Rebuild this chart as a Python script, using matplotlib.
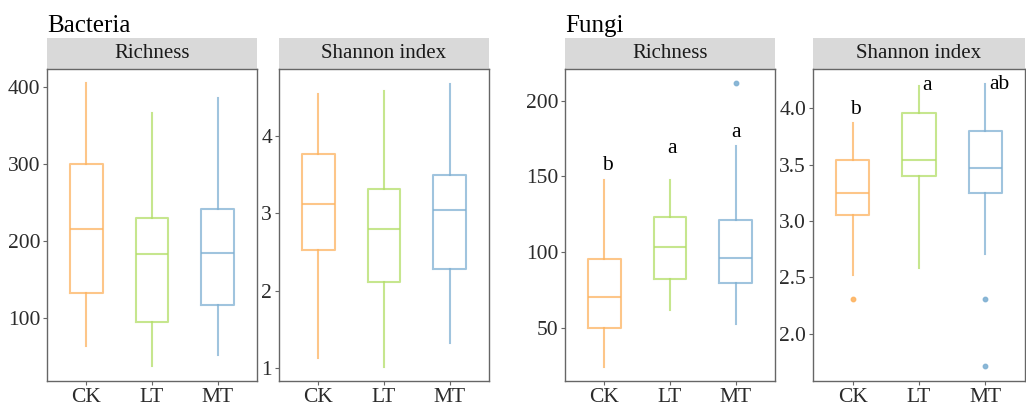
import matplotlib
matplotlib.use("Agg")
import matplotlib.pyplot as plt
from matplotlib.patches import Rectangle

plt.rcParams['font.family'] = ['Liberation Serif', 'DejaVu Serif']

groups = ["CK", "LT", "MT"]
colors = ["#FDB462", "#B3DE69", "#80B1D3"]

# Bacteria richness: (whislo, q1, med, q3, whishi)
bac_rich = [(64.6, 132.7, 215.9, 300.0, 405.2),
            (38.7, 94.8, 184.1, 229.8, 367.1),
            (52.9, 117.2, 185.4, 241.4, 385.8)]
bac_rich_out = [[], [], []]
bac_rich_ticks = [100, 200, 300, 400]
bac_rich_lim = (18.6, 423.6)

# Bacteria Shannon
bac_shan = [(1.13, 2.52, 3.12, 3.77, 4.54),
            (1.01, 2.11, 2.80, 3.31, 4.58),
            (1.32, 2.28, 3.04, 3.50, 4.68)]
bac_shan_out = [[], [], []]
bac_shan_ticks = [1, 2, 3, 4]
bac_shan_lim = (0.83, 4.87)

# Fungi richness
fun_rich = [(24.6, 50.2, 70.9, 95.9, 147.8),
            (61.8, 82.7, 103.5, 123.3, 147.8),
            (53.1, 79.6, 96.5, 121.2, 170.2)]
fun_rich_out = [[], [], [211.4]]
fun_rich_ticks = [50, 100, 150, 200]
fun_rich_lim = (15.3, 220.8)
fun_rich_letters = ["b", "a", "a"]
fun_rich_letter_y = [154.4, 165.2, 175.9]

# Fungi Shannon
fun_shan = [(2.52, 3.05, 3.25, 3.54, 3.87),
            (2.58, 3.40, 3.54, 3.96, 4.20),
            (2.71, 3.25, 3.47, 3.80, 4.22)]
fun_shan_out = [[2.31], [], [2.31, 1.71]]
fun_shan_ticks = [2.0, 2.5, 3.0, 3.5, 4.0]
fun_shan_lim = (1.58, 4.35)
fun_shan_letters = ["b", "a", "ab"]
fun_shan_letter_y = [3.95, 4.16, 4.17]

W, H = 1026, 408
fig = plt.figure(figsize=(W / 100, H / 100), dpi=100)

def px_axes(x0, x1, y0=69, y1=381):
    return fig.add_axes([x0 / W, (H - y1) / H, (x1 - x0) / W, (y1 - y0) / H])

panels = [
    (47, 257, "Richness", bac_rich, bac_rich_out, bac_rich_ticks, bac_rich_lim, None, None, None, "{:g}"),
    (279, 489, "Shannon index", bac_shan, bac_shan_out, bac_shan_ticks, bac_shan_lim, None, None, None, "{:g}"),
    (565, 775, "Richness", fun_rich, fun_rich_out, fun_rich_ticks, fun_rich_lim,
     fun_rich_letters, fun_rich_letter_y, [0.05, 0.03, 0.01], "{:g}"),
    (813, 1025, "Shannon index", fun_shan, fun_shan_out, fun_shan_ticks, fun_shan_lim,
     fun_shan_letters, fun_shan_letter_y, [0.04, 0.12, 0.22], "{:.1f}"),
]

for (x0, x1, strip, stats, outs, ticks, lim, letters, ly, lx, fmt) in panels:
    ax = px_axes(x0, x1)
    bxp_stats = []
    for s, o in zip(stats, outs):
        bxp_stats.append(dict(whislo=s[0], q1=s[1], med=s[2], q3=s[3], whishi=s[4],
                              fliers=o))
    pos = [1, 2, 3]
    for i, st in enumerate(bxp_stats):
        c = colors[i]
        ax.bxp([st], positions=[pos[i]], widths=0.5, showcaps=False,
               boxprops=dict(color=c, lw=1.5, alpha=0.75),
               whiskerprops=dict(color=c, lw=1.5, alpha=0.75),
               medianprops=dict(color=c, lw=1.5, alpha=0.75),
               flierprops=dict(marker='o', markersize=3.2, markerfacecolor=c,
                               markeredgecolor=c, alpha=0.9, linestyle='none'))
    ax.set_xlim(0.4, 3.6)
    ax.set_ylim(*lim)
    ax.set_xticks(pos)
    ax.set_xticklabels(groups)
    ax.set_yticks(ticks)
    ax.set_yticklabels([fmt.format(t) for t in ticks])
    ax.tick_params(axis='both', length=3, width=0.8, color='#666666',
                   labelsize=15.5, labelcolor='#2B2B2B', pad=2)
    for sp in ax.spines.values():
        sp.set_color('#666666')
        sp.set_linewidth(1.0)
    # strip
    sh = 31 / 312
    ax.add_patch(Rectangle((0, 1.0), 1, sh, transform=ax.transAxes,
                           facecolor='#D9D9D9', edgecolor='none', clip_on=False))
    ax.text(0.5, 1.0 + sh / 2, strip, transform=ax.transAxes, ha='center',
            va='center', fontsize=15, color='#1A1A1A')
    if letters:
        for i, (lab, yv) in enumerate(zip(letters, ly)):
            ax.text(pos[i] + lx[i], yv, lab, ha='center', va='baseline',
                    fontsize=15.5, color='black')

fig.text(47 / W, (H - 32) / H, "Bacteria", fontsize=18, ha='left', va='baseline', color='black')
fig.text(565 / W, (H - 32) / H, "Fungi", fontsize=18, ha='left', va='baseline', color='black')

fig.savefig("out.png", dpi=100)
